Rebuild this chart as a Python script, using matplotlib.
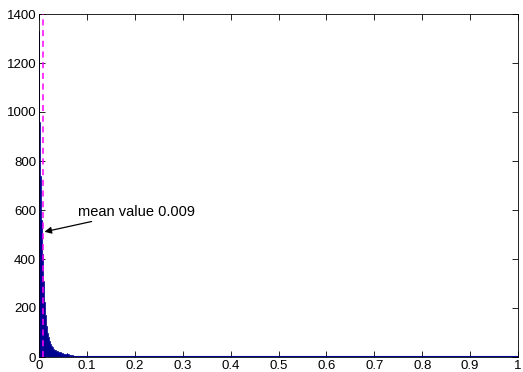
import numpy as np
import matplotlib
matplotlib.use("Agg")
import matplotlib.pyplot as plt

plt.rcParams['font.family'] = ['Liberation Sans', 'DejaVu Sans']

# bar heights, bins of width 0.001 from 0 to 0.1
head_counts = [1330, 960, 850, 740, 640, 560, 480, 420, 360, 310,
               265, 225, 195, 170, 145, 125, 110, 98, 88, 80,
               73, 67, 62, 57, 53, 49, 45, 42, 39, 36,
               34, 32, 30, 29, 27, 26, 25, 24, 23, 22,
               22, 21, 20, 20, 19, 18, 18, 17, 16, 15,
               15, 14, 13, 13, 12, 12, 13, 14, 15, 14,
               13, 12, 11, 10, 10, 9, 9, 8, 8, 7,
               7, 7, 6, 6, 6, 6, 5, 5, 5, 5,
               5, 5, 4, 5, 4, 4, 4, 4, 4, 4,
               4, 3, 4, 3, 3, 3, 3, 3, 3, 3]
# bar heights, bins of width 0.01 from 0.1 to 1
tail_counts = [3, 3, 3, 3, 2, 3, 2, 2, 2, 2,
               2, 2, 2, 2, 2, 2, 1, 2, 1, 1,
               1, 2, 1, 1, 1, 1, 1, 1, 1, 1,
               1, 1, 1, 1, 1, 1, 1, 1, 1, 1,
               1, 1, 1, 0, 1, 1, 0, 1, 0, 1,
               0, 0, 1, 0, 0, 0, 0, 1, 0, 0,
               0, 0, 0, 0, 0, 0, 0, 0, 0, 0,
               0, 0, 0, 0, 0, 0, 0, 0, 0, 0,
               0, 0, 0, 0, 0, 0, 0, 0, 0, 0]
mean_value = 0.009

edges = np.concatenate([np.linspace(0, 0.1, len(head_counts) + 1),
                        np.linspace(0.1, 1.0, len(tail_counts) + 1)[1:]])
counts = np.array(head_counts + tail_counts, dtype=float)
navy = '#000090'

fig = plt.figure(figsize=(5.23, 3.72), dpi=100)
ax = fig.add_axes([39/523, 15/372, 479/523, 343/372])

ax.stairs(counts, edges, fill=True, facecolor=navy, edgecolor=navy,
          linewidth=0.5, baseline=0, zorder=2)
ax.axhline(0, color=navy, linewidth=1.5, zorder=3)
ax.axvline(mean_value, color='#ff00ff', linestyle='--', linewidth=1.1,
           dashes=(4, 3), zorder=4)

ax.annotate('mean value 0.009', xy=(0.0115, 511), xytext=(0.081, 593),
            fontsize=10.5, va='center', ha='left',
            arrowprops=dict(arrowstyle='-|>', color='black', lw=0.9,
                            mutation_scale=10, shrinkA=0, shrinkB=0))

ax.set_xlim(0, 1)
ax.set_ylim(0, 1400)
ax.set_xticks(np.arange(0, 1.01, 0.1))
ax.set_xticklabels(['0', '0.1', '0.2', '0.3', '0.4', '0.5', '0.6', '0.7', '0.8', '0.9', '1'])
ax.set_yticks(np.arange(0, 1401, 200))
ax.tick_params(direction='in', top=True, right=True, length=4, width=0.6,
               labelsize=9.5, pad=2)
for s in ax.spines.values():
    s.set_linewidth(0.6)

fig.savefig('out.png', dpi=100)
